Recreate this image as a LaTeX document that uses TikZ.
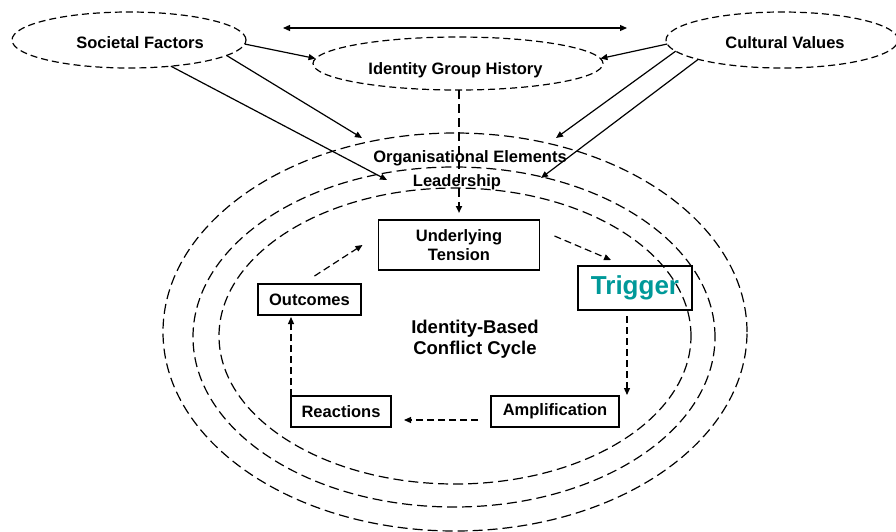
\documentclass[tikz,border=0pt]{standalone}
\usepackage{fontspec}
\setmainfont{Liberation Sans}
\usetikzlibrary{arrows.meta,shapes.geometric,calc}
\definecolor{trig}{RGB}{0,153,153}
\newcommand\basefont{\fontsize{16.5}{18.3}\selectfont\bfseries}
\newcommand\cyclefont{\fontsize{18.5}{21}\selectfont\bfseries}
\newcommand\trigfont{\fontsize{26}{30}\selectfont\bfseries}
\begin{document}
\begin{tikzpicture}[x=1pt,y=-1pt,
  >={Triangle[length=7pt,width=6pt]},
  ring/.style={draw, ellipse, dash pattern=on 10pt off 5pt, line width=1.2pt, inner sep=0pt, outer sep=0pt},
  topell/.style={draw, ellipse, dash pattern=on 7pt off 4pt, line width=1.2pt, inner sep=0pt, outer sep=0pt},
  cbox/.style={draw, line width=1.6pt, inner sep=0pt, outer sep=0pt, align=center, font=\basefont},
  lbl/.style={font=\basefont, inner sep=0pt},
  arr/.style={->, line width=1.2pt},
  darr/.style={->, line width=1.2pt, dash pattern=on 7pt off 4pt},
  vdash/.style={->, line width=2pt, dash pattern=on 9pt off 5pt}]
\useasboundingbox (0,0) rectangle (896,531);

% rings
\node[ring, minimum width=584pt, minimum height=398pt] (org) at (455,332) {};
\node[ring, minimum width=522pt, minimum height=340pt] (lead) at (454,337) {};
\node[ring, minimum width=472pt, minimum height=296pt] (core) at (455,336) {};

% top ellipses
\node[topell, minimum width=234pt, minimum height=56pt,
  label={[lbl, xshift=11pt, yshift=-3pt]center:Societal Factors}] (sf) at (129,40) {};
\node[topell, minimum width=232pt, minimum height=56pt,
  label={[lbl, xshift=3pt, yshift=-3pt]center:Cultural Values}] (cv) at (782,40) {};
\node[topell, minimum width=290pt, minimum height=53pt,
  label={[lbl, xshift=-2.5pt, yshift=-6.5pt]center:Identity Group History}] (igh) at (458,63.5) {};

% ring labels
\node[lbl, anchor=base] (orgt) at (470,162) {Organisational Elements};
\node[lbl, anchor=base] (leadt) at (457,186) {Leadership};

% cycle
\node[cbox, minimum width=161pt, minimum height=50pt] (ut) at (459,245) {Underlying\\Tension};
\node[cbox, minimum width=114pt, minimum height=44pt, font=\trigfont, text=trig] (tr) at (635,288) {Trigger};
\node[cbox, minimum width=103pt, minimum height=31pt] (out) at (309.5,299.5) {Outcomes};
\node[cbox, minimum width=100pt, minimum height=31pt] (re) at (341,411.5) {Reactions};
\node[cbox, minimum width=128pt, minimum height=31pt] (amp) at (555,411.5) {Amplification};
\node[font=\cyclefont, align=center, inner sep=0pt] (ibc) at (475,339) {Identity-Based\\Conflict Cycle};

% top double arrow
\coordinate (dl) at (283,28);
\coordinate (dr) at (627,28);
\draw[<->, line width=1.2pt] (dl) -- (dr);

% arrow ends on rings
\coordinate (orgL) at (362,138);
\coordinate (orgR) at (556,138);
\coordinate (ldL) at (387,180);
\coordinate (ldR) at (541,178);

\draw[arr] (sf.-2) -- (igh.178);
\draw[arr] (sf.-9) -- (orgL);
\draw[arr] (sf.-32) -- (ldL);
\draw[arr] (cv.182.5) -- (igh.2);
\draw[arr] (cv.186.5) -- (orgR);
\draw[arr] (cv.193.5) -- (ldR);

% history to tension
\draw[vdash, shorten >=7pt] (ut.north |- igh.south) -- (ut.north);

% cycle arrows
\draw[darr] ($(ut.east)+(15,-9)$) -- ($(tr.north west)+(33,-6)$);
\draw[darr] ($(tr.south)+(-8,6)$) -- ($(amp.north east)+(8,-1)$);
\draw[darr] ($(amp.west)+(-13,8.5)$) -- ($(re.east)+(13,8.5)$);
\draw[darr, shorten >=2pt] (re.north west) -- (re.north west |- out.south);
\draw[darr] ($(out.north)+(5,-8)$) -- ($(ut.west)+(-16,0)$);
\end{tikzpicture}
\end{document}
